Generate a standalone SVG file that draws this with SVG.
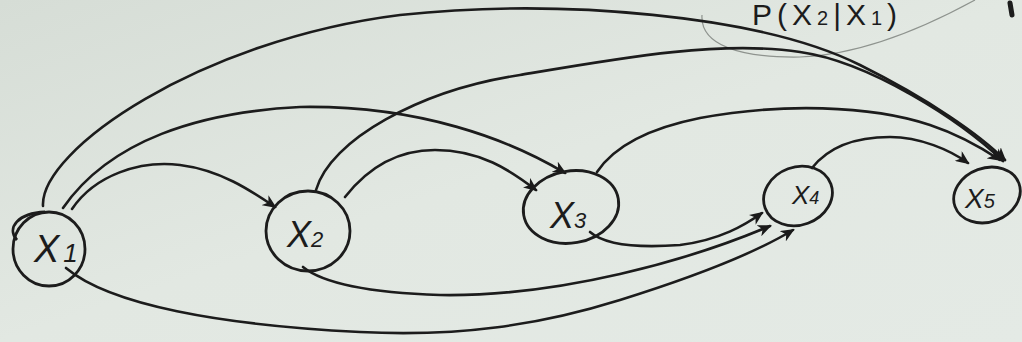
<svg xmlns="http://www.w3.org/2000/svg" width="1022" height="342" viewBox="0 0 1022 342">
<defs>
<linearGradient id="bg" x1="0" y1="0" x2="1" y2="1">
<stop offset="0" stop-color="#d6ddd6"/>
<stop offset="0.5" stop-color="#e2e8e2"/>
<stop offset="1" stop-color="#e4eae5"/>
</linearGradient>
<marker id="arr" viewBox="0 0 14 12" refX="12" refY="6" markerWidth="14" markerHeight="12" markerUnits="userSpaceOnUse" orient="auto">
<path d="M0,0 L14,6 L0,12 L4,6 z" fill="#1a1a1a"/>
</marker>
<style>
.e{fill:none;stroke:#1c1c1c;stroke-width:2.6;stroke-linecap:round}
.n{fill:none;stroke:#1c1c1c;stroke-width:2.8}
.lbl{font-family:"Liberation Sans",Arial,sans-serif;fill:#1c1c1c;font-style:italic}
</style>
</defs>
<rect width="1022" height="342" fill="url(#bg)"/>
<g id="note">
<path d="M702 15 C700 45 740 58 800 57 C860 55 920 30 975 0" fill="none" stroke="#8e938e" stroke-width="1.2"/>
<text x="752" y="25" font-family="'Liberation Sans',Arial,sans-serif" font-size="30" fill="#1c1c1c" letter-spacing="5">P(X<tspan font-size="20">2</tspan>|X<tspan font-size="20">1</tspan>)</text>
<path d="M1010 3 L1012 15" stroke="#1c1c1c" stroke-width="5" stroke-linecap="round"/>
</g>
<g id="connectors">
<path class="e" d="M72 209 C95 175 140 160 180 165 C220 170 250 190 275 207" marker-end="url(#arr)"/>
<path class="e" d="M63 208 C110 140 200 112 300 107 C420 105 510 140 565 173" marker-end="url(#arr)"/>
<path class="e" d="M43 206 C40 150 200 40 400 15 C560 -2 760 15 860 65 C930 100 980 135 1005 160" marker-end="url(#arr)"/>
<path class="e" d="M316 190 C330 140 420 90 520 75 C620 58 720 40 800 52 C870 62 960 120 1003 161" marker-end="url(#arr)"/>
<path class="e" d="M345 197 C370 165 400 150 435 150 C480 150 510 170 536 190" marker-end="url(#arr)"/>
<path class="e" d="M597 172 C615 145 650 128 700 118 C780 103 870 105 930 125 C960 135 985 150 1000 160" marker-end="url(#arr)"/>
<path class="e" d="M812 168 C830 145 860 137 890 137 C920 137 950 150 968 163" marker-end="url(#arr)"/>
<path class="e" d="M590 232 C605 245 640 248 680 245 C720 240 745 225 762 213" marker-end="url(#arr)"/>
<path class="e" d="M303 267 C325 285 380 293 440 295 C560 297 690 260 770 226" marker-end="url(#arr)"/>
<path class="e" d="M66 268 C110 305 220 325 360 332 C460 337 540 325 620 300 C700 275 760 250 793 230" marker-end="url(#arr)"/>
</g>
<g id="x1">
<ellipse class="n" cx="49" cy="249" rx="36" ry="37"/>
<path class="n" d="M17 240 C6 228 18 213 45 212"/>
<text class="lbl" x="34" y="262" font-size="38">X<tspan font-size="26" dx="4">1</tspan></text>
</g>
<g id="x2">
<ellipse class="n" cx="308" cy="231" rx="42" ry="40"/>
<text class="lbl" x="287" y="247" font-size="36">X<tspan font-size="22">2</tspan></text>
</g>
<g id="x3">
<ellipse class="n" cx="571" cy="207" rx="48" ry="36" transform="rotate(-10 571 207)"/>
<text class="lbl" x="550" y="228" font-size="36">X<tspan font-size="22">3</tspan></text>
</g>
<g id="x4">
<ellipse class="n" cx="798" cy="196" rx="35" ry="29" transform="rotate(-20 798 196)"/>
<text class="lbl" x="792" y="204" font-size="26">X<tspan font-size="18">4</tspan></text>
</g>
<g id="x5">
<ellipse class="n" cx="987" cy="195" rx="34" ry="27" transform="rotate(-20 987 195)"/>
<text class="lbl" x="965" y="208" font-size="28">X<tspan font-size="20">5</tspan></text>
</g>
</svg>
